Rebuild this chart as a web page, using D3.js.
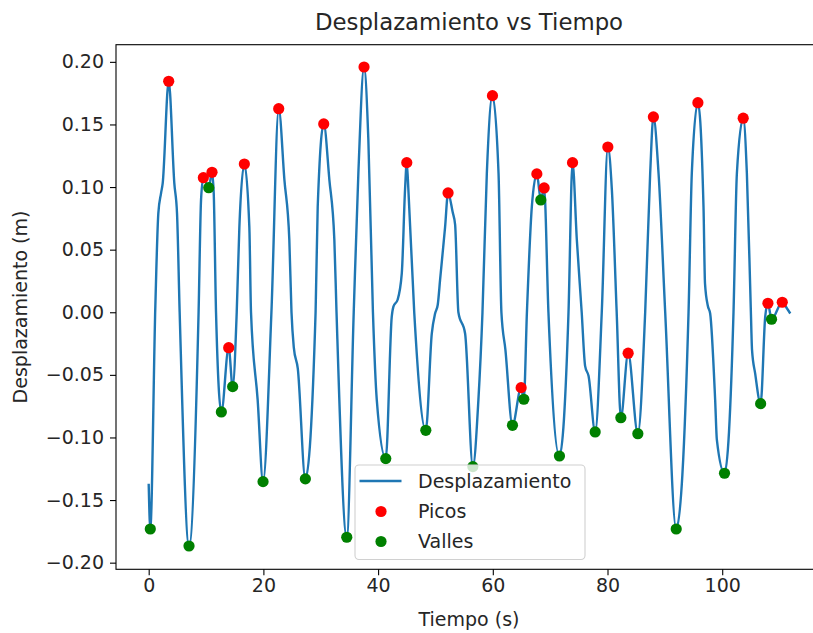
<!DOCTYPE html>
<html>
<head>
<meta charset="utf-8">
<script src="https://cdn.jsdelivr.net/npm/d3@7/dist/d3.min.js"></script>
<style>
  html, body { margin: 0; padding: 0; background: #fff; }
  svg { display: block; font-family: "DejaVu Sans", sans-serif; }
</style>
</head>
<body>
<svg id="chart" width="813" height="633"></svg>
<script>
// Señal de desplazamiento muestreada (tiempo en s, desplazamiento en m)
const tiempo = [
  0, 0.28, 1.16, 1.68, 2.15, 2.44, 3.49, 4.47, 4.94, 5.4,
  7.03, 8.7, 9.13, 9.53, 10.47, 11.04, 11.34, 11.74, 12.67, 13.95,
  14.64, 15.35, 15.81, 16.68, 17.55, 17.84, 19.0, 19.94, 21.4, 22.67,
  23.66, 24.52, 24.9, 25.3, 26.0, 27.32, 29.1, 29.47, 30.52, 31.5,
  32.37, 32.75, 34.54, 35.75, 36.56, 37.55, 38.3, 39.1, 39.77, 41.34,
  42.38, 42.67, 43.4, 44.13, 44.7, 45.0, 45.28, 46.3, 48.32, 49.36,
  49.94, 50.4, 50.81, 51.68, 52.2, 53.0, 53.43, 54.0, 55.17, 56.52,
  57.49, 58.2, 58.96, 59.94, 61.0, 61.5, 62.2, 63.43, 64.94, 65.41,
  65.95, 66.8, 67.68, 68.37, 68.95, 69.7, 71.62, 73.2, 73.9, 74.65,
  75.5, 76.1, 76.7, 77.85, 79.0, 80.06, 80.76, 81.6, 82.33, 83.6,
  85.29, 86.57, 87.44, 88.0, 88.9, 90.06, 91.98, 94.13, 94.7, 95.76,
  96.74, 97.0, 97.5, 97.9, 98.77, 99.07, 100.4, 101.97, 102.56, 103.66,
  104.3, 105.0, 105.2, 105.75, 106.7, 107.5, 107.97, 108.6, 110.47, 111.3,
  111.87
];
const desplazamiento = [
  -0.137, -0.1731, 0.005, 0.079, 0.095, 0.103, 0.1845, 0.103, 0.079, 0.0,
  -0.1867, 0.0, 0.09, 0.1075, 0.0995, 0.1118, 0.095, 0.0, -0.0796, -0.0283,
  -0.0594, 0.0, 0.068, 0.1184, 0.068, 0.0, -0.07, -0.1353, 0.0, 0.1626,
  0.106, 0.058, 0.0, -0.028, -0.045, -0.1331, 0.0, 0.084, 0.1504, 0.106,
  0.058, 0.0, -0.1797, 0.0, 0.111, 0.1959, 0.138, 0.0, -0.07, -0.1169,
  -0.0035, 0.0045, 0.01, 0.031, 0.098, 0.1195, 0.098, 0.0, -0.0943, -0.017,
  -0.001, 0.006, 0.026, 0.068, 0.0953, 0.080, 0.070, 0.0, -0.017, -0.1233,
  -0.07, 0.0, 0.111, 0.173, 0.111, 0.0, -0.03, -0.0903, -0.0602, -0.0695,
  0.0, 0.084, 0.1105, 0.0897, 0.0993, 0.0, -0.1148, 0.0, 0.1195, 0.058,
  0.0, -0.043, -0.051, -0.0956, 0.0, 0.132, 0.098, 0.0, -0.0842, -0.0327,
  -0.097, 0.0, 0.111, 0.156, 0.111, 0.0, -0.1731, 0.0, 0.111, 0.1674,
  0.084, 0.023, 0.005, -0.001, -0.07, -0.102, -0.1286, 0.0, 0.111, 0.155,
  0.111, 0.0, -0.03, -0.049, -0.073, -0.0035, 0.0072, -0.0056, 0.008, 0.003,
  -0.001
];

// Máximos locales detectados
const picosT = [3.49, 9.53, 11.04, 13.95, 16.68, 22.67, 30.52, 37.55, 45.0, 52.2,
                59.94, 64.94, 67.68, 68.95, 73.9, 80.06, 83.6, 88.0, 95.76, 103.66,
                107.97, 110.47];
const picosY = [0.1845, 0.1075, 0.1118, -0.0283, 0.1184, 0.1626, 0.1504, 0.1959, 0.1195, 0.0953,
                0.173, -0.0602, 0.1105, 0.0993, 0.1195, 0.132, -0.0327, 0.156, 0.1674, 0.155,
                0.0072, 0.008];

// Mínimos locales detectados
const vallesT = [0.28, 7.03, 10.47, 12.67, 14.64, 19.94, 27.32, 34.54, 41.34, 48.32,
                 56.52, 63.43, 65.41, 68.37, 71.62, 77.85, 82.33, 85.29, 91.98, 100.4,
                 106.7, 108.6];
const vallesY = [-0.1731, -0.1867, 0.0995, -0.0796, -0.0594, -0.1353, -0.1331, -0.1797, -0.1169, -0.0943,
                 -0.1233, -0.0903, -0.0695, 0.0897, -0.1148, -0.0956, -0.0842, -0.097, -0.1731, -0.1286,
                 -0.073, -0.0056];

const xTicks = [0, 20, 40, 60, 80, 100];
const yTicks = [-0.20, -0.15, -0.10, -0.05, 0.00, 0.05, 0.10, 0.15, 0.20];

const titulo = "Desplazamiento vs Tiempo";
const etiquetaX = "Tiempo (s)";
const etiquetaY = "Desplazamiento (m)";
const leyenda = ["Desplazamiento", "Picos", "Valles"];

// Área de trazado
const plotLeft = 116, plotRight = 822, plotTop = 44.7, plotBottom = 569.3;
const svg = d3.select("#chart");

const x = d3.scaleLinear().domain([-5.7, 117.4]).range([plotLeft, plotRight]);
const y = d3.scaleLinear().domain([-0.2053, 0.2137]).range([plotBottom, plotTop]);

const FS = 19;
const textColor = "#262626";

svg.append("defs").append("clipPath").attr("id", "plotClip")
  .append("rect").attr("x", plotLeft).attr("y", plotTop)
  .attr("width", plotRight - plotLeft).attr("height", plotBottom - plotTop);

const plot = svg.append("g").attr("clip-path", "url(#plotClip)");

const serie = tiempo.map((t, i) => [t, desplazamiento[i]]);
const linea = d3.line().x(d => x(d[0])).y(d => y(d[1])).curve(d3.curveMonotoneX);

plot.append("path")
  .datum(serie)
  .attr("d", linea)
  .attr("fill", "none")
  .attr("stroke", "#1f77b4")
  .attr("stroke-width", 2.4)
  .attr("stroke-linejoin", "round")
  .attr("stroke-linecap", "butt");

const R = 5.6;
plot.append("g").selectAll("circle")
  .data(picosT.map((t, i) => [t, picosY[i]]))
  .join("circle")
  .attr("cx", d => x(d[0])).attr("cy", d => y(d[1])).attr("r", R)
  .attr("fill", "#ff0000");

plot.append("g").selectAll("circle")
  .data(vallesT.map((t, i) => [t, vallesY[i]]))
  .join("circle")
  .attr("cx", d => x(d[0])).attr("cy", d => y(d[1])).attr("r", R)
  .attr("fill", "#008000");

// Ejes
const xAxis = svg.append("g")
  .attr("transform", `translate(0,${plotBottom})`)
  .call(d3.axisBottom(x).tickValues(xTicks).tickFormat(d3.format("d")).tickSize(6).tickPadding(3));
const yAxis = svg.append("g")
  .attr("transform", `translate(${plotLeft},0)`)
  .call(d3.axisLeft(y).tickValues(yTicks).tickFormat(d => d3.format(".2f")(d).replace("-", "\u2212")).tickSize(6).tickPadding(6));

[xAxis, yAxis].forEach(a => {
  a.select(".domain").remove();
  a.selectAll(".tick line").attr("stroke", "#000").attr("stroke-width", 1.1);
  a.selectAll(".tick text").attr("fill", textColor)
    .style("font-family", "'DejaVu Sans', sans-serif").style("font-size", FS + "px");
});

// Marco
svg.append("rect")
  .attr("x", plotLeft).attr("y", plotTop)
  .attr("width", plotRight - plotLeft).attr("height", plotBottom - plotTop)
  .attr("fill", "none").attr("stroke", "#000").attr("stroke-width", 1.1);

// Títulos
svg.append("text").attr("x", 469).attr("y", 30)
  .attr("text-anchor", "middle").attr("fill", textColor)
  .style("font-size", (FS * 1.2) + "px").text(titulo);

svg.append("text").attr("x", 469).attr("y", 626)
  .attr("text-anchor", "middle").attr("fill", textColor)
  .style("font-size", FS + "px").text(etiquetaX);

svg.append("text")
  .attr("transform", `translate(27,${(plotTop + plotBottom) / 2}) rotate(-90)`)
  .attr("text-anchor", "middle").attr("fill", textColor)
  .style("font-size", FS + "px").text(etiquetaY);

// Leyenda
const lg = svg.append("g");
lg.append("rect")
  .attr("x", 355).attr("y", 465).attr("width", 230).attr("height", 94.5)
  .attr("rx", 4).attr("ry", 4)
  .attr("fill", "#fff").attr("fill-opacity", 0.8)
  .attr("stroke", "#d0d0d0").attr("stroke-width", 1.1);

const filas = [481, 511.5, 541.5];
lg.append("line")
  .attr("x1", 359.5).attr("x2", 401.5).attr("y1", filas[0]).attr("y2", filas[0])
  .attr("stroke", "#1f77b4").attr("stroke-width", 2.4);
lg.append("circle").attr("cx", 381).attr("cy", filas[1]).attr("r", R).attr("fill", "#ff0000");
lg.append("circle").attr("cx", 381).attr("cy", filas[2]).attr("r", R).attr("fill", "#008000");

leyenda.forEach((txt, i) => {
  lg.append("text")
    .attr("x", 418).attr("y", filas[i]).attr("dy", "0.35em")
    .attr("fill", textColor).style("font-size", FS + "px").text(txt);
});
</script>
</body>
</html>
